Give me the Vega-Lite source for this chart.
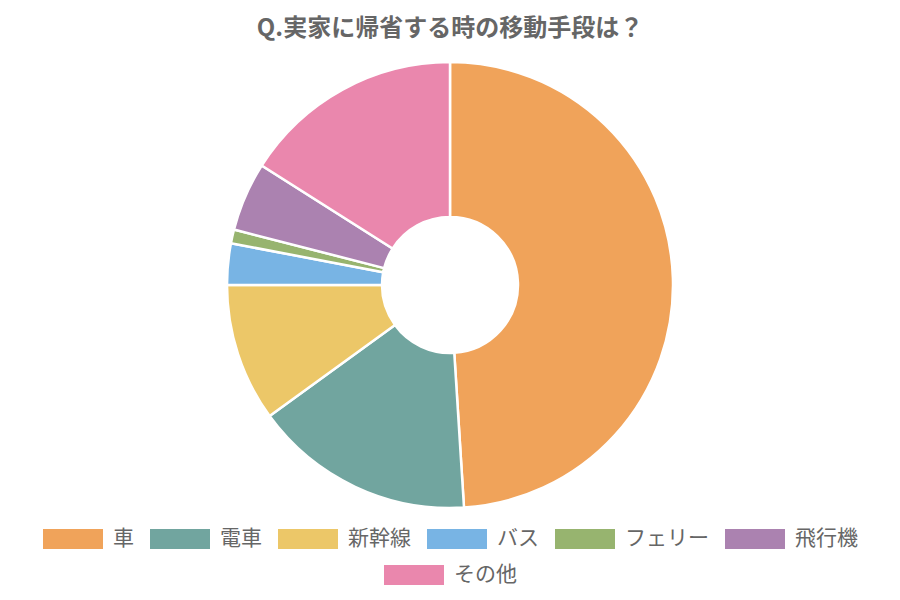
{
  "$schema": "https://vega.github.io/schema/vega-lite/v6.json",
  "width": 900,
  "height": 470,
  "autosize": "none",
  "padding": {"left": 0, "right": 0, "top": 50, "bottom": 80},
  "background": "white",
  "title": {
    "text": "Q.実家に帰省する時の移動手段は？",
    "fontSize": 24,
    "fontWeight": "bold",
    "color": "#666666",
    "font": "Noto Sans CJK JP",
    "anchor": "middle",
    "offset": 9
  },
  "data": {
    "values": [
      {"cat": "車", "value": 49, "idx": 1},
      {"cat": "電車", "value": 16, "idx": 2},
      {"cat": "新幹線", "value": 10, "idx": 3},
      {"cat": "バス", "value": 3, "idx": 4},
      {"cat": "フェリー", "value": 1, "idx": 5},
      {"cat": "飛行機", "value": 5, "idx": 6},
      {"cat": "その他", "value": 16, "idx": 7}
    ]
  },
  "layer": [
    {
      "mark": {"type": "arc", "outerRadius": 223, "innerRadius": 68, "stroke": "white", "strokeWidth": 2.5},
      "encoding": {
        "theta": {"field": "value", "type": "quantitative", "stack": true},
        "order": {"field": "idx", "type": "quantitative"},
        "color": {
          "field": "cat",
          "type": "nominal",
          "scale": {
            "domain": ["車", "電車", "新幹線", "バス", "フェリー", "飛行機", "その他"],
            "range": ["#F0A35A", "#71A59F", "#ECC768", "#78B4E4", "#97B46F", "#AB82B0", "#EA87AD"]
          },
          "legend": {"values": ["車", "電車", "新幹線", "バス", "フェリー", "飛行機"]}
        }
      }
    },
    {
      "mark": {"type": "arc", "outerRadius": 223, "innerRadius": 68, "stroke": "white", "strokeWidth": 2.5},
      "encoding": {
        "theta": {"field": "value", "type": "quantitative", "stack": true},
        "order": {"field": "idx", "type": "quantitative"},
        "color": {
          "field": "cat",
          "type": "nominal",
          "scale": {
            "domain": ["車", "電車", "新幹線", "バス", "フェリー", "飛行機", "その他"],
            "range": ["#F0A35A", "#71A59F", "#ECC768", "#78B4E4", "#97B46F", "#AB82B0", "#EA87AD"]
          },
          "legend": {"values": ["その他"]}
        }
      }
    }
  ],
  "resolve": {"scale": {"color": "independent"}},
  "config": {
    "view": {"stroke": null},
    "legend": {
      "orient": "bottom",
      "direction": "horizontal",
      "title": null,
      "symbolType": "M-1,-0.3333H1V0.3333H-1Z",
      "symbolSize": 3600,
      "symbolStrokeWidth": 0,
      "symbolOpacity": 1,
      "labelFontSize": 21,
      "labelColor": "#666666",
      "labelFont": "Noto Sans CJK JP",
      "labelOffset": 10,
      "columnPadding": 16,
      "padding": -2,
      "offset": -9,
      "layout": {"bottom": {"anchor": "middle", "direction": "vertical", "center": true, "margin": 0}}
    }
  }
}
